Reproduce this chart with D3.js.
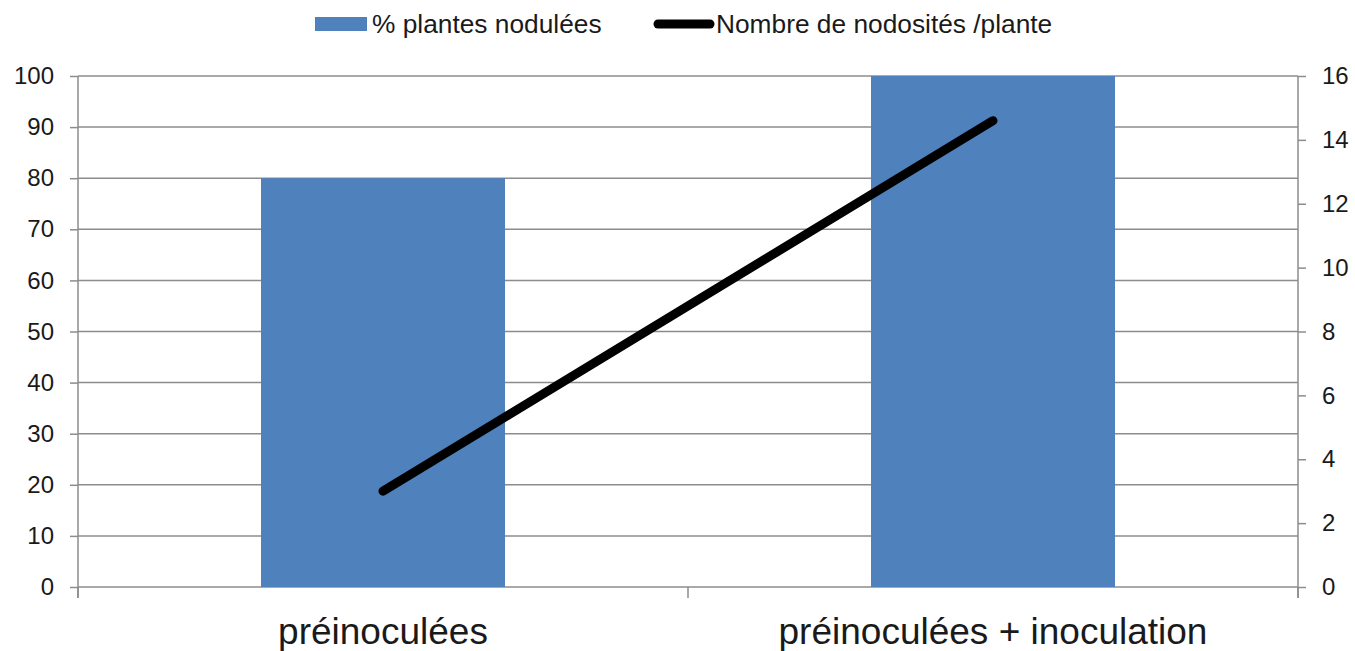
<!DOCTYPE html>
<html>
<head>
<meta charset="utf-8">
<script src="https://cdn.jsdelivr.net/npm/d3@7"></script>
<style>
  body { margin: 0; background: #fff; }
  text { font-family: "Liberation Sans", Arial, sans-serif; fill: #1a1a1a; }
</style>
</head>
<body>
<svg id="chart" width="1355" height="651"></svg>
<script>
// data
const categories = ['préinoculées', 'préinoculées + inoculation'];
const pctNodulated = [80, 100];
const nodulesPerPlant = [3.0, 14.6];
const leftTicks = [0, 10, 20, 30, 40, 50, 60, 70, 80, 90, 100];
const rightTicks = [0, 2, 4, 6, 8, 10, 12, 14, 16];
const seriesNames = ['% plantes nodulées', 'Nombre de nodosités /plante'];

const svg = d3.select('#chart');
const margin = {top: 76, right: 57, bottom: 64, left: 78};
const width = 1355 - margin.left - margin.right;
const height = 651 - margin.top - margin.bottom;

const g = svg.append('g').attr('transform', `translate(${margin.left},${margin.top})`);

const x = d3.scaleBand().domain(categories).range([0, width]).paddingInner(0.6).paddingOuter(0.3);
const yL = d3.scaleLinear().domain([0, 100]).range([height, 0]);
const yR = d3.scaleLinear().domain([0, 16]).range([height, 0]);

const gridColor = '#8c8c8c';

// gridlines
g.append('g')
  .selectAll('line')
  .data(leftTicks)
  .join('line')
  .attr('x1', 0).attr('x2', width)
  .attr('y1', d => yL(d)).attr('y2', d => yL(d))
  .attr('stroke', gridColor).attr('stroke-width', 1.5);

// bars
g.append('g')
  .selectAll('rect')
  .data(categories)
  .join('rect')
  .attr('x', d => x(d))
  .attr('width', x.bandwidth())
  .attr('y', (d, i) => yL(pctNodulated[i]))
  .attr('height', (d, i) => height - yL(pctNodulated[i]))
  .attr('fill', '#4F81BD');

// left axis
const axL = g.append('g').call(d3.axisLeft(yL).tickValues(leftTicks).tickSize(8).tickPadding(16));
axL.select('.domain').remove();
axL.selectAll('line').attr('stroke', gridColor).attr('stroke-width', 1.5);
axL.selectAll('text').attr('font-size', 24).attr('fill', '#1a1a1a')
  .attr('font-family', '"Liberation Sans", Arial, sans-serif');
g.append('line').attr('x1', 0).attr('x2', 0).attr('y1', 0).attr('y2', height + 11)
  .attr('stroke', gridColor).attr('stroke-width', 1.5);

// right axis
const axR = g.append('g').attr('transform', `translate(${width},0)`)
  .call(d3.axisRight(yR).tickValues(rightTicks).tickSize(8).tickPadding(16));
axR.select('.domain').remove();
axR.selectAll('line').attr('stroke', gridColor).attr('stroke-width', 1.5);
axR.selectAll('text').attr('font-size', 24).attr('fill', '#1a1a1a')
  .attr('font-family', '"Liberation Sans", Arial, sans-serif');
g.append('line').attr('x1', width).attr('x2', width).attr('y1', 0).attr('y2', height + 11)
  .attr('stroke', gridColor).attr('stroke-width', 1.5);

// category ticks at boundaries
const bounds = [0, width / 2, width];
g.append('g').selectAll('line').data(bounds).join('line')
  .attr('x1', d => d).attr('x2', d => d)
  .attr('y1', height).attr('y2', height + 11)
  .attr('stroke', gridColor).attr('stroke-width', 1.5);

// category labels
g.append('g').selectAll('text').data(categories).join('text')
  .attr('x', d => x(d) + x.bandwidth() / 2)
  .attr('y', height + 57)
  .attr('text-anchor', 'middle')
  .attr('font-size', 37)
  .text(d => d);

// line series
const line = d3.line()
  .x((d, i) => x(categories[i]) + x.bandwidth() / 2)
  .y(d => yR(d));
g.append('path')
  .datum(nodulesPerPlant)
  .attr('d', line)
  .attr('fill', 'none')
  .attr('stroke', '#000')
  .attr('stroke-width', 9)
  .attr('stroke-linecap', 'round');

// legend
const leg = svg.append('g');
leg.append('rect').attr('x', 315).attr('y', 17).attr('width', 52).attr('height', 14).attr('fill', '#4F81BD');
leg.append('text').attr('x', 372).attr('y', 33).attr('font-size', 26.3).text(seriesNames[0]);
leg.append('line').attr('x1', 658).attr('x2', 710).attr('y1', 24).attr('y2', 24)
  .attr('stroke', '#000').attr('stroke-width', 9).attr('stroke-linecap', 'round');
leg.append('text').attr('x', 716).attr('y', 33).attr('font-size', 26.3).text(seriesNames[1]);
</script>
</body>
</html>
